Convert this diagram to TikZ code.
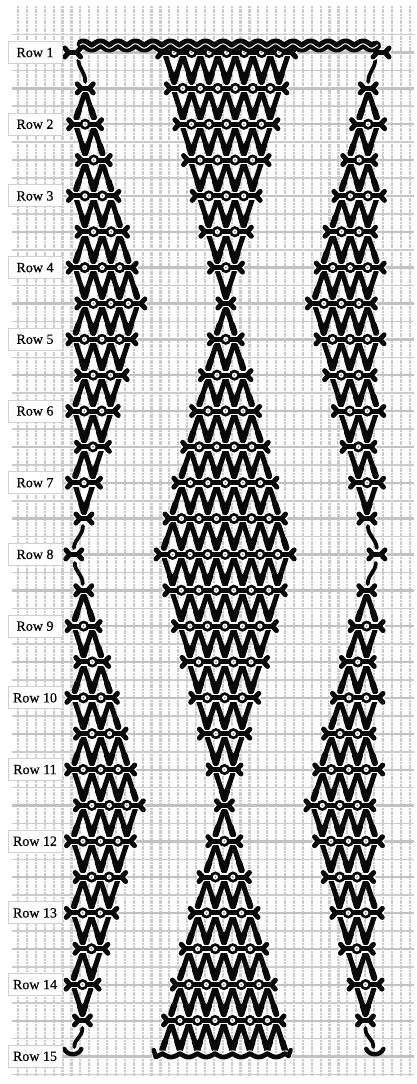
\documentclass[tikz,border=0pt]{standalone}
\usepackage{fontspec}
\setmainfont{Liberation Serif}
\newfontfamily\rowfont{Liberation Serif}[FakeBold=0.5]
\definecolor{thread}{HTML}{080808}
\definecolor{cloth}{HTML}{CCCCCC}
\tikzset{
  stitch/.style={draw=thread, line width=5pt, line cap=round, line join=round},
  halo/.style={draw=white, line width=7.6pt, line cap=round, line join=round},
  warpline/.style={draw=cloth, line width=2.2pt, dash pattern=on 2pt off .7pt},
  weftline/.style={draw=cloth, line width=1.6pt},
  heavyweft/.style={draw=cloth!95!black, line width=2.4pt},
  rowlabel/.style={draw=black!18, fill=white, line width=.9pt, font=\rowfont\fontsize{14}{16}\selectfont,
    minimum width=54pt, minimum height=22pt, inner sep=0pt}
}
% level k: 0 is Row 1, 28 is Row 15
\newcommand{\stitchzig}[4]{%
  \pgfmathsetmacro{\ya}{52.5+35.85*#1+3}%
  \pgfmathsetmacro{\yb}{52.5+35.85*(#1+1)-6.5}%
  \pgfmathtruncatemacro{\nseg}{#3-#2}%
  \foreach \i in {1,...,\nseg}{%
    \pgfmathsetmacro{\yc}{mod(\i-1+#4,2)==1 ? \yb : \ya}%
    \pgfmathsetmacro{\yd}{mod(\i+#4,2)==1 ? \yb : \ya}%
    \draw[stitch] ({(#2+\i-1)*8.75},\yc) -- ({(#2+\i)*8.75},\yd);
    % heavier towards the lower end
    \draw[stitch, line width=6.2pt]
      ({(#2+\i-.5+.2*(2*(\yd>\yc)-1))*8.75},{(\yc+\yd)/2+5}) -- ({(#2+\i-1+(\yd>\yc))*8.75},\yb);
  }%
}
\newcommand{\stitchbar}[3]{%
  \pgfmathsetmacro{\yb}{52.5+35.85*#1}%
  \pgfmathsetmacro{\xa}{#2*8.75}%
  \pgfmathsetmacro{\xb}{(#2+2*(max(#3,1)-1))*8.75}%
  \pgfmathsetmacro{\reach}{#3==0 ? 4 : 12.5}%
  \foreach \look/\ring/\tone in {halo/6.6/white,stitch/5.6/thread}{%
    \draw[\look] ({\xa-\reach},\yb) -- ({\xb+\reach},\yb);
    \draw[\look] ({\xa-\reach-4},\yb-4.5) -- ({\xa-\reach},\yb) -- ({\xa-\reach-4},\yb+4.5);
    \draw[\look] ({\xb+\reach+4},\yb-4.5) -- ({\xb+\reach},\yb) -- ({\xb+\reach+4},\yb+4.5);
    \ifnum#3>0
      \foreach \e in {1,...,#3}{\fill[\tone] ({\xa+(\e-1)*17.5},\yb) circle[radius=\ring];}
    \fi
  }%
  \ifnum#3>0
    \foreach \e in {1,...,#3}{%
      \fill[white] ({\xa+(\e-1)*17.5},\yb) circle[radius=2.6];
      \fill[black!45] ({\xa+(\e-1)*17.5},\yb) circle[radius=1];
    }%
  \fi
}
\begin{document}
\begin{tikzpicture}[x=1pt,y=-1pt]
  \useasboundingbox (0,0) rectangle (417,1084);
  \fill[white] (0,0) rectangle (417,1084);
  % the cloth
  \foreach \i in {0,...,44} \draw[warpline] ({18+8.9*\i},6) -- ({18+8.9*\i},1076);
  \foreach \j in {-1,1,...,57} \draw[weftline] (12,{52.5+17.93*\j}) -- (414,{52.5+17.93*\j});
  \foreach \j in {0,2,...,56} \draw[heavyweft] (12,{52.5+17.93*\j}) -- (414,{52.5+17.93*\j});
  \begin{scope}[xslant=0.003]
    % side panels
    \foreach \colx/\flip in {85.5/1,368.5/-1}{
      \begin{scope}[shift={(\colx,0)},xscale=\flip]
        \foreach \shiftk in {0,14}{
          \foreach \m/\last in {1/1,2/2,3/3,4/4,5/5,6/6,7/6,8/5,9/4,10/3,11/2,12/1}{
            \pgfmathtruncatemacro{\k}{\m+\shiftk}
            \pgfmathtruncatemacro{\odd}{mod(\m,2)}
            \stitchzig{\k}{-1}{\last}{\odd}
          }
          \foreach \m/\first/\eyes in {1/0/0,2/0/1,3/1/1,4/0/2,5/1/2,6/0/3,7/1/3,8/0/3,9/1/2,10/0/2,11/1/1,12/0/1,13/0/0}{
            \pgfmathtruncatemacro{\k}{\m+\shiftk}
            \stitchbar{\k}{\first}{\eyes}
          }
        }
        \draw[stitch, line width=3.8pt] (-7,60) .. controls (-6,70) and (0,72) .. (0,82);
        \draw[stitch, line width=3.8pt] (-1,526) .. controls (-1,536) and (-9,538) .. (-10,548);
        \draw[stitch, line width=3.8pt] (-9,563) .. controls (-9,572) and (-1,574) .. (-1,584);
        \draw[stitch, line width=3.8pt] (0,1028) .. controls (0,1038) and (-8,1038) .. (-8,1047);
        \stitchbar{14}{-1.15}{0}
        \stitchbar{0}{-1.45}{0}
        \draw[stitch, line width=4.4pt] (-18,1049) .. controls (-15,1056) and (-4,1056) .. (-1,1049);
      \end{scope}
    }
    % middle panel
    \begin{scope}[shift={(226.8,0)}]
      \foreach \k in {0,...,27}{
        \pgfmathtruncatemacro{\m}{mod(\k,14)}
        \pgfmathtruncatemacro{\eyes}{abs(\m-7)}
        \pgfmathtruncatemacro{\eyesb}{abs(mod(\k+1,14)-7)}
        \pgfmathtruncatemacro{\wide}{max(\eyes,\eyesb)}
        \pgfmathtruncatemacro{\start}{\m<7 ? 0 : 1}
        \stitchzig{\k}{-\wide}{\wide}{\start}
      }
      \foreach \k in {0,...,27}{
        \pgfmathtruncatemacro{\eyes}{abs(mod(\k,14)-7)}
        \pgfmathtruncatemacro{\first}{\eyes==0 ? 0 : 1-\eyes}
        \stitchbar{\k}{\first}{\eyes}
      }
      \draw[halo, line width=7pt, domain=-68:65, samples=140]
        plot (\x,{1053.5+3.5*abs(cos(\x/17.5*180))});
      \draw[stitch, line width=4.8pt, domain=-68:65, samples=140]
        plot (\x,{1053.5+3.5*abs(cos(\x/17.5*180))});
      \draw[stitch, line width=4.4pt] (-68,1056) -- (-70,1050);
      \draw[stitch, line width=4.4pt] (65,1056) -- (67,1050);
    \end{scope}
    % top band of Row 1
    \draw[stitch, line width=10.5pt, domain=82:376, samples=170]
      plot (\x,{45.5+1.8*sin(\x/17.5*360)});
    \draw[draw=white, line width=1pt, domain=80:378, samples=170]
      plot (\x,{46+2.2*sin(\x/17.5*360)});
  \end{scope}
  % row labels
  \foreach \r in {1,...,15}{
    \node[rowlabel] (row\r) at (35,{52.5+71.7*(\r-1)}) {Row \r};
  }
\end{tikzpicture}
\end{document}
